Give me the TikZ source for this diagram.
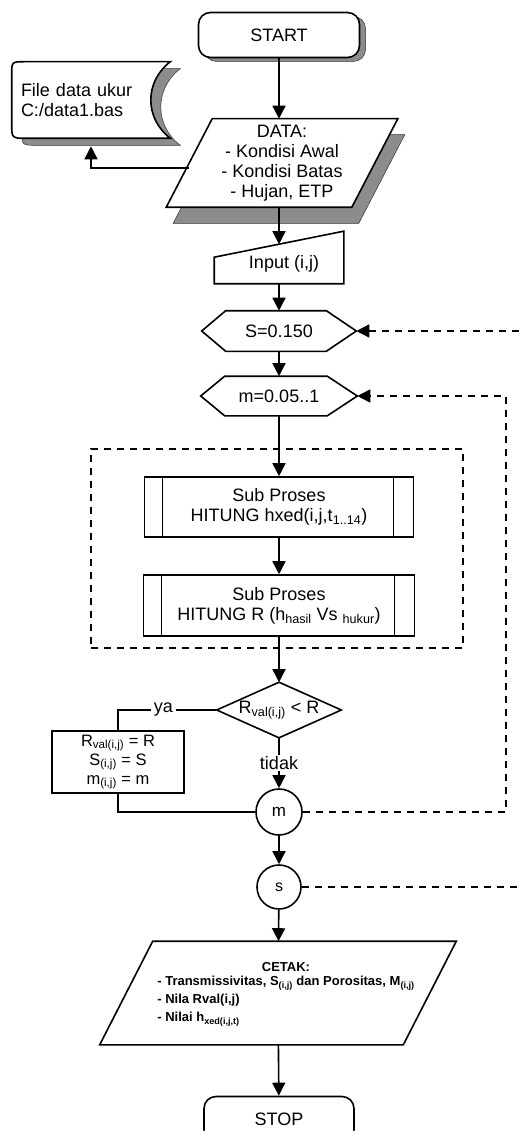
\documentclass[tikz,border=0pt]{standalone}
\usepackage{fontspec}
\setmainfont{Liberation Sans}
\usepackage{tikz}
\usetikzlibrary{arrows.meta,shapes.geometric,shadows,backgrounds,positioning}

\begin{document}
\begin{tikzpicture}[x=1pt,y=-1pt,>={Triangle[length=13pt,width=13pt]},line width=1.6pt,
    font=\fontsize{18}{20}\selectfont]
    % styles for the boxes of the flowchart
    \tikzstyle{terminal}=[rectangle,draw,fill=white,rounded corners=12pt,
    minimum width=161pt,minimum height=45pt]
    \tikzstyle{holder}=[rectangle,inner sep=0pt,align=center]
    \tikzstyle{outline}=[draw,fill=white,line width=1.6pt]
    \tikzstyle{subproc}=[rectangle,draw,fill=white,align=center,minimum width=269pt,minimum height=60pt,
    path picture={\draw[line width=1.3pt]
      ([xshift=18pt]path picture bounding box.north west) -- ([xshift=18pt]path picture bounding box.south west)
      ([xshift=-20pt]path picture bounding box.north east) -- ([xshift=-20pt]path picture bounding box.south east);}]
    \tikzstyle{loopline}=[line width=1.6pt,dash pattern=on 7pt off 6pt]
    \tikzset{castshadow/.style 2 args={drop shadow={shadow xshift=#1,shadow yshift=#2,
      fill=black!45,opacity=1,draw=black!80,line width=0.5pt}}}

    \useasboundingbox (0,0) rectangle (521,1131);
    \clip (0,0) rectangle (521,1131);

    \node [terminal,castshadow={6pt}{-4pt}] (start) at (279,35) {START};
    \node [holder,minimum width=184pt,minimum height=87pt] (data) at (282,163)
      {DATA:\\- Kondisi Awal\\- Kondisi Batas\\- Hujan, ETP};
    \node [holder,minimum width=157pt,minimum height=75pt,align=left,text width=140pt] (file) at (91,100)
      {File data ukur\\C:/data1.bas};
    \node [holder,minimum width=128pt,minimum height=38pt] (inp) at (279,264) {\hspace*{10pt}Input (i,j)};
    \node [holder,minimum width=153pt,minimum height=39pt] (s0) at (279,331) {S=0.150};
    \node [holder,minimum width=155pt,minimum height=38pt] (m0) at (279,396) {m=0.05..1};

    \node [draw,loopline,minimum width=372pt,minimum height=199pt] (grp) at (277,548.5) {};
    \node [subproc] (p1) at (279,507) {Sub Proses\\HITUNG hxed(i,j,t\textsubscript{1..14})};
    \node [subproc,minimum width=271pt,minimum height=61pt] (p2) at (279,605.5)
      {Sub Proses\\HITUNG R (h\textsubscript{hasil} Vs \textsubscript{hukur})};

    \node [holder,minimum width=123pt,minimum height=54pt] (dec) at (279,710) {R\textsubscript{val(i,j)} < R};
    \node [rectangle,draw,fill=white,minimum width=132pt,minimum height=62pt,align=center,
      font=\fontsize{16.5}{19}\selectfont] (res) at (118,762)
      {R\textsubscript{val(i,j)} = R\\S\textsubscript{(i,j)} = S\\m\textsubscript{(i,j)} = m};
    \node [circle,draw,fill=white,minimum size=46pt,inner sep=0pt,font=\fontsize{17}{19}\selectfont] (cm) at (279,812) {m};
    \node [circle,draw,fill=white,minimum size=44pt,inner sep=0pt,font=\fontsize{16}{18}\selectfont] (cs) at (279,887) {s};

    \node [holder,minimum width=302pt,minimum height=102pt,font=\bfseries\fontsize{13}{18}\selectfont] (cetak) at (278,993)
      {\hspace*{16pt}\begin{tabular}{@{}l@{}}\multicolumn{1}{@{}c@{}}{CETAK:}\\[-4pt]
       - Transmissivitas, S\textsubscript{(i,j)} dan Porositas, M\textsubscript{(i,j)}\\
       - Nila Rval(i,j)\\
       - Nilai h\textsubscript{xed(i,j,t)}\end{tabular}};
    \node [terminal,minimum width=150pt] (stop) at (279,1119) {STOP};

    % outlines behind the texts
    \begin{scope}[on background layer]
      \draw [outline,castshadow={10pt}{-7pt}] (file.north east) -- ([xshift=13pt]file.north west)
        .. controls (file.north west) .. ([yshift=-13pt]file.north west)
        -- ([yshift=15pt]file.south west) .. controls (file.south west) .. ([xshift=15pt]file.south west)
        -- (file.south east) .. controls ([xshift=-26pt,yshift=20pt]file.south east)
        and ([xshift=-26pt,yshift=-20pt]file.north east) .. (file.north east) -- cycle;
      \draw [outline,castshadow={7pt}{-16pt}] ([xshift=23pt]data.north west) -- ([xshift=23pt]data.north east)
        -- ([xshift=-23pt]data.south east) -- ([xshift=-23pt]data.south west) -- cycle;
      \draw [outline] (inp.south west) -- ([yshift=-13pt]inp.north west) -- ([yshift=13pt]inp.north east)
        -- (inp.south east) -- cycle;
      \foreach \hx in {s0,m0}
        \draw [outline] (\hx.west) -- ([xshift=24pt]\hx.north west) -- ([xshift=-30pt]\hx.north east)
          -- (\hx.east) -- ([xshift=-30pt]\hx.south east) -- ([xshift=24pt]\hx.south west) -- cycle;
      \draw [outline] (dec.north) -- (dec.east) -- (dec.south) -- (dec.west) -- cycle;
      \draw [outline] ([xshift=26.5pt]cetak.north west) -- ([xshift=26.5pt]cetak.north east)
        -- ([xshift=-26.5pt]cetak.south east) -- ([xshift=-26.5pt]cetak.south west) -- cycle;
    \end{scope}

    \draw [->] (start) -- (start |- data.north);
    \draw [->] ([yshift=-5pt]data.west) -| ([yshift=-8pt]file.south);
    \draw [->] (inp |- data.south) -- (inp.north);
    \draw [->] (inp) -- (s0);
    \draw [->] (s0) -- (m0);
    \draw [->] (m0) -- (p1);
    \draw [->] (p1) -- (p2);
    \draw [->] (p2) -- (dec);
    \draw (dec.west) -| node [pos=0.27,fill=white,inner sep=3pt] {ya} (res.north);
    \draw [->] (dec.south) -- node [fill=white,inner sep=1pt] {tidak} (cm);
    \draw (res.south) |- (cm.west);
    \draw [->] (cm) -- (cs);
    \draw [->] (cs) -- (cetak);
    \draw [->] (cetak) -- (stop);
    \draw [loopline,->] (cm.east) -- ++(203,0) |- (m0.east);
    \draw [loopline,->] (cs.east) -- ++(240,0) |- (s0.east);
\end{tikzpicture}
\end{document}
